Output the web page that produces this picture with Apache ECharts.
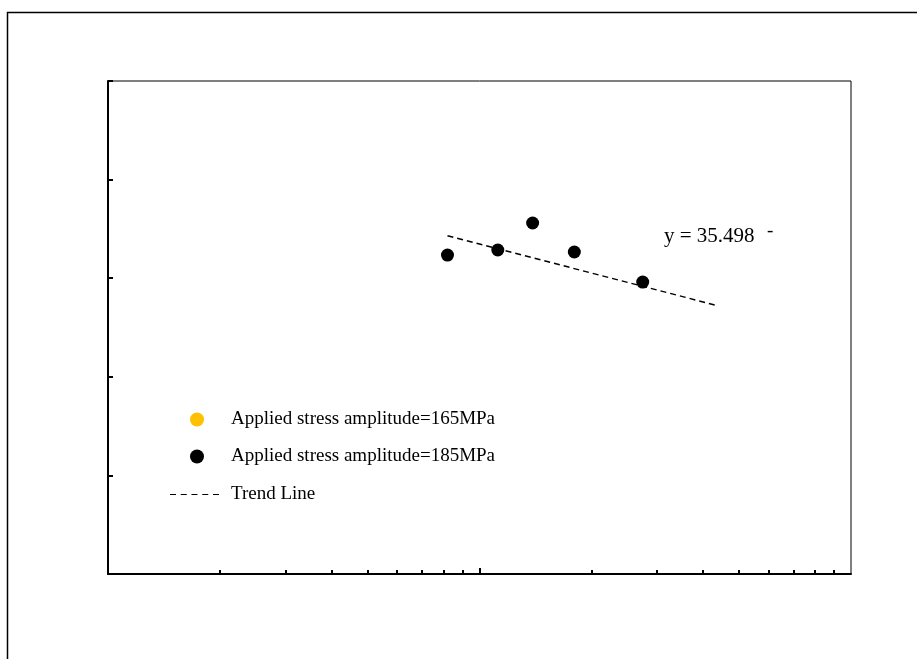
<!DOCTYPE html>
<html>
<head>
<meta charset="utf-8">
<script src="https://cdn.jsdelivr.net/npm/echarts@6/dist/echarts.min.js"></script>
<style>html,body{margin:0;padding:0;background:#fff;}#c{width:917px;height:659px;}</style>
</head>
<body>
<div id="c"></div>
<script>
// ---- data ----
var seriesNames = ['Applied stress amplitude=165MPa', 'Applied stress amplitude=185MPa', 'Trend Line'];
var cycles165 = [];
var values165 = [];
var cycles185 = [8.2e5, 1.12e6, 1.39e6, 1.80e6, 2.75e6];
var values185 = [32.35, 32.86, 35.60, 32.66, 29.61];
var trendCycles = [8.2e5, 4.39e6];
var trendValues = [34.3, 27.2];
var minorTickValues = [2e5, 3e5, 4e5, 5e5, 6e5, 7e5, 8e5, 9e5, 2e6, 3e6, 4e6, 5e6, 6e6, 7e6, 8e6, 9e6];
var majorTickValues = [1e6];
var equationText = 'y = 35.498';

function pairs(xs, ys) { return xs.map(function (x, i) { return [x, ys[i]]; }); }

var font = '"Liberation Serif", "Times New Roman", serif';
var dashIcon = 'path://M0,0h6v1h-6z M10.75,0h6v1h-6z M21.5,0h6v1h-6z M32.25,0h6v1h-6z M43,0h6v1h-6z';
var chart = echarts.init(document.getElementById('c'), null, { renderer: 'canvas' });
chart.setOption({
  animation: false,
  backgroundColor: '#fff',
  grid: { left: 108, top: 81, right: 66, bottom: 85, show: true, borderColor: '#000', borderWidth: 1 },
  xAxis: [
    { type: 'log', logBase: 10, min: 1e5, max: 1e7, position: 'bottom',
      axisLine: { show: true, onZero: false, lineStyle: { color: '#000', width: 2 } },
      axisTick: { show: true, inside: true, length: 4, lineStyle: { color: '#000', width: 2 }, customValues: minorTickValues },
      axisLabel: { show: false }, splitLine: { show: false }, minorTick: { show: false } },
    { type: 'log', logBase: 10, min: 1e5, max: 1e7, position: 'bottom',
      axisLine: { show: false },
      axisTick: { show: true, inside: true, length: 6, lineStyle: { color: '#000', width: 2 }, customValues: majorTickValues },
      axisLabel: { show: false }, splitLine: { show: false } }
  ],
  yAxis: {
    type: 'value', min: 0, max: 50, interval: 10,
    axisLine: { show: true, onZero: false, lineStyle: { color: '#000', width: 2 } },
    axisTick: { show: true, inside: true, length: 5, lineStyle: { color: '#000', width: 2 } },
    axisLabel: { show: false }, splitLine: { show: false }
  },
  legend: [
    { data: [seriesNames[0], seriesNames[1]], orient: 'vertical', left: 190, top: 410, padding: 0,
      itemWidth: 14, itemHeight: 14, itemGap: 18, icon: 'circle',
      textStyle: { fontFamily: font, fontSize: 19, color: '#000', padding: [0, 0, 0, 22] } },
    { data: [{ name: seriesNames[2], icon: dashIcon }], orient: 'vertical', left: 170, top: 485, padding: 0,
      itemWidth: 49, itemHeight: 1.5, itemStyle: { color: '#000' },
      textStyle: { fontFamily: font, fontSize: 19, color: '#000', padding: [0, 0, 0, 7] } }
  ],
  series: [
    { name: seriesNames[0], type: 'scatter', symbolSize: 13, itemStyle: { color: '#FFC000', opacity: 1 }, data: pairs(cycles165, values165) },
    { name: seriesNames[1], type: 'scatter', symbolSize: 13, itemStyle: { color: '#000', opacity: 1 }, data: pairs(cycles185, values185) },
    { name: seriesNames[2], type: 'line', symbol: 'none', showSymbol: false,
      lineStyle: { color: '#000', width: 1.5, type: [6, 4] }, itemStyle: { color: '#000' },
      data: pairs(trendCycles, trendValues) }
  ],
  graphic: [
    { type: 'rect', shape: { x: 7.5, y: 12.5, width: 1200, height: 1000 }, style: { fill: 'none', stroke: '#000', lineWidth: 1.5 }, silent: true },
    { type: 'text', x: 664, y: 236, style: { text: equationText, font: '21px ' + font, fill: '#000', verticalAlign: 'middle' } },
    { type: 'text', x: 767, y: 231, style: { text: '-', font: '19px ' + font, fill: '#000', verticalAlign: 'middle' } }
  ]
});
</script>
</body>
</html>
